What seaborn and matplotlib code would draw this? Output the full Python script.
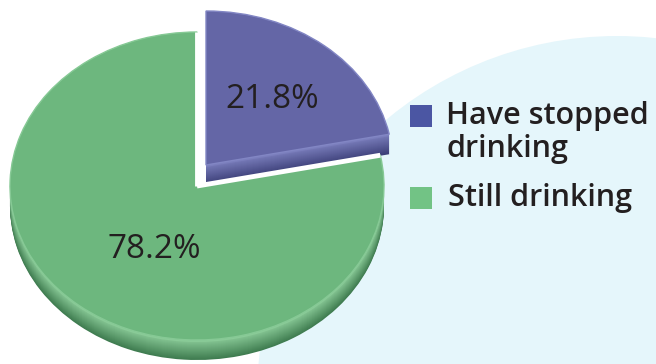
import matplotlib
matplotlib.use("Agg")
import matplotlib.pyplot as plt
from matplotlib.patches import Ellipse, Rectangle
import seaborn as sns
import numpy as np

# Share of respondents
categories = ["Have stopped drinking", "Still drinking"]
legend_labels = ["Have stopped\ndrinking", "Still drinking"]
values = [21.8, 78.2]

sns.set_theme(style="white")
plt.rcParams["font.family"] = ["Open Sans", "DejaVu Sans"]

W, H = 656, 364
fig = plt.figure(figsize=(W / 100, H / 100), dpi=100)
ax = fig.add_axes([0, 0, 1, 1])

rx, ry = 187.0, 154.0          # top-face radii in pixels
k = ry / rx                    # vertical squash of the tilted pie
thick = 20                     # depth of the pie rim in pixels


def to_data(px, py):
    return px, (H - py) / k


top_colors = ["#6466a6", "#6db77e"]
rim_dark = ["#3c3f78", "#3f7c50"]
rim_light = ["#7b7fbd", "#8acb98"]
edge_light = ["#8286c4", "#86c995"]
centers_px = [(206, 165), (197, 186)]

# light blue backdrop disc
bx, by = to_data(617, 396)
ax.add_patch(Ellipse((bx, by), 720, 720 / k, facecolor="#e5f6fb",
                     edgecolor="none", zorder=0))

# rim layers (drawn from the bottom up), then the top face; back slice first
for idx in [0, 1]:
    cx, cy = to_data(*centers_px[idx])
    dark = np.array(matplotlib.colors.to_rgb(rim_dark[idx]))
    light = np.array(matplotlib.colors.to_rgb(rim_light[idx]))
    base_z = 2 + idx * 100
    for i in range(thick, 0, -1):
        t = 1 - i / thick
        col = dark * (1 - t) + light * t
        if i <= 2:
            col = light
        wedges, _ = ax.pie(values, startangle=90, counterclock=False,
                           radius=rx, center=(cx, cy - i / k), frame=True,
                           colors=[col, col])
        for j, w in enumerate(wedges):
            w.set_visible(j == idx)
            w.set_zorder(base_z + (thick - i))
            w.set_edgecolor("none")
    wedges, _ = ax.pie(values, startangle=90, counterclock=False,
                       radius=rx, center=(cx, cy), frame=True,
                       colors=top_colors)
    for j, w in enumerate(wedges):
        w.set_visible(j == idx)
        w.set_zorder(base_z + thick + 5)
        w.set_edgecolor(edge_light[idx])
        w.set_linewidth(1.0)

# white gap along the cut edges of the front slice
cx, cy = to_data(*centers_px[1])
cut_angles = [90.0, 90.0 - 360.0 * values[0] / sum(values)]
for a in cut_angles:
    r = np.radians(a)
    ax.plot([cx, cx + rx * np.cos(r)], [cy, cy + rx * np.sin(r)],
            color="white", lw=3.5, solid_capstyle="butt",
            zorder=2 + 100 + thick + 6)

# percentage labels
label_pos = [(272, 100), (154, 249)]
for v, (px, py) in zip(values, label_pos):
    x, y = to_data(px, py)
    ax.text(x, y, f"{v:.1f}%", ha="center", va="center", fontsize=24,
            color="#231f20", zorder=400)

# legend
legend_colors = ["#4b56a3", "#72c385"]
sq = 22
legend_rows = [(105, 446), (187, 448)]
for lab, col, (top, tx) in zip(legend_labels, legend_colors, legend_rows):
    x0, y0 = to_data(410, top + sq)
    ax.add_patch(Rectangle((x0, y0), sq, sq / k, facecolor=col,
                           edgecolor="none", zorder=400))
    x, y = to_data(tx, top - 4)
    ax.text(x, y, lab, ha="left", va="top", fontsize=22, fontweight="semibold",
            color="#231f20", linespacing=1.12, zorder=400)

ax.set_aspect("auto")
ax.set_xlim(0, W)
ax.set_ylim(0, H / k)
ax.axis("off")

fig.savefig("out.png", dpi=100)
